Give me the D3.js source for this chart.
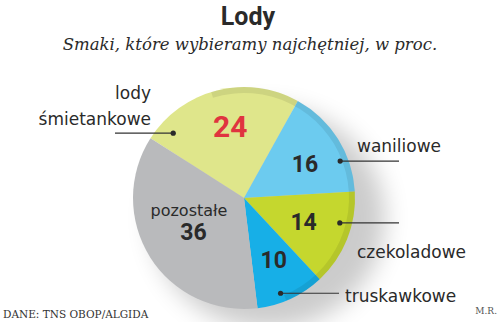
<!DOCTYPE html>
<html><head><meta charset="utf-8">
<script src="https://cdn.jsdelivr.net/npm/d3@7"></script>
<style>body{margin:0;background:#fff}svg{display:block}</style>
</head><body>
<script>
// Data
const categories = ["lody śmietankowe", "waniliowe", "czekoladowe", "truskawkowe", "pozostałe"];
const values = [24, 16, 14, 10, 36];
const colors = ["#dfe68b", "#6ccbef", "#c5d72e", "#17afe7", "#b9babc"];
const valueColors = ["#e0343f", "#2a2a2a", "#2a2a2a", "#2a2a2a", "#2a2a2a"];

const W = 500, H = 322;
const cx = 244, cy = 198, R = 111;
const svg = d3.select("body").append("svg").attr("width", W).attr("height", H);

const defs = svg.append("defs");
const f = defs.append("filter").attr("id","blur").attr("x","-50%").attr("y","-50%").attr("width","200%").attr("height","200%");
f.append("feGaussianBlur").attr("stdDeviation", 12);

// Title
svg.append("text").attr("x", 248).attr("y", 25).attr("text-anchor","middle")
  .style("font-family","Roboto, 'DejaVu Sans', sans-serif").style("font-weight","bold")
  .style("font-size","25px").attr("fill","#2a2a2a").text("Lody");
svg.append("text").attr("x", 250).attr("y", 50).attr("text-anchor","middle")
  .style("font-family","'DejaVu Serif', 'Liberation Serif', serif").style("font-style","italic")
  .style("font-size","16.5px").attr("fill","#2a2a2a").text("Smaki, które wybieramy najchętniej, w proc.");

const g = svg.append("g").attr("transform", `translate(${cx},${cy})`);

// shadow
g.append("ellipse").attr("cx", 24).attr("cy", 20).attr("rx", R+6).attr("ry", R)
  .attr("fill", "#000").attr("opacity", 0.2).attr("filter","url(#blur)");

const start = -57.4 * Math.PI / 180;
const pie = d3.pie().sort(null).value(d => d).startAngle(start).endAngle(start + 2*Math.PI);
const arcs = pie(values);
const arc = d3.arc().innerRadius(0).outerRadius(R);

g.selectAll("path.slice").data(arcs).join("path").attr("class","slice")
  .attr("d", arc).attr("fill", (d,i) => colors[i]);

// darker rim on the right side
const rim = d3.arc().innerRadius(R-6).outerRadius(R).startAngle(-0.3).endAngle(2.75);
g.append("path").attr("d", rim()).attr("fill","#000").attr("opacity",0.08);

// value labels
const labelArc = d3.arc().innerRadius(68).outerRadius(68);
const nudges = [[3,5],[3.5,10],[-3.5,7],[1,8],[7,6]];
const sizes = [30, 23, 23, 23, 23];
g.selectAll("text.val").data(arcs).join("text").attr("class","val")
  .attr("x", (d,i) => labelArc.centroid(d)[0] + nudges[i][0])
  .attr("y", (d,i) => labelArc.centroid(d)[1] + nudges[i][1])
  .attr("text-anchor","middle")
  .style("font-family","Roboto, 'DejaVu Sans', sans-serif").style("font-weight","bold")
  .style("font-size", (d,i) => sizes[i] + "px").attr("fill", (d,i) => valueColors[i])
  .text(d => d.data);

const labFont = "'DejaVu Sans', sans-serif";
// "pozostałe" inside gray slice
const gc = labelArc.centroid(arcs[4]);
g.append("text").attr("x", gc[0]+2.5).attr("y", gc[1]-18).attr("text-anchor","middle")
  .style("font-family", labFont).style("font-size","16px").attr("fill","#2a2a2a").text("pozostałe");

// callouts
const callouts = [
  {i:0, ang:-47.5, r:96, x2:115, lines:["lody","śmietankowe"], lx:151, ly:[99,125], anchor:"end"},
  {i:1, ang:69, r:103, x2:399, lines:["waniliowe"], lx:357, ly:[152], anchor:"start"},
  {i:2, ang:104.6, r:99, x2:399, lines:["czekoladowe"], lx:357, ly:[258], anchor:"start"},
  {i:3, ang:159, r:102, x2:339, lines:["truskawkowe"], lx:345, ly:[302], anchor:"start"}
];
callouts.forEach(c => {
  const a = c.ang * Math.PI/180;
  const dx = cx + c.r*Math.sin(a), dy = cy - c.r*Math.cos(a);
  svg.append("line").attr("x1", dx).attr("y1", dy).attr("x2", c.x2).attr("y2", dy)
    .attr("stroke","#333").attr("stroke-width",1.2);
  svg.append("circle").attr("cx", dx).attr("cy", dy).attr("r", 2.6).attr("fill","#2a2a2a");
  c.lines.forEach((t,k) => {
    svg.append("text").attr("x", c.lx).attr("y", c.ly[k]).attr("text-anchor", c.anchor)
      .style("font-family", labFont).style("font-size","17px").attr("fill","#2a2a2a").text(t);
  });
});

// footer
svg.append("text").attr("x", 3).attr("y", 318)
  .style("font-family","'DejaVu Serif', serif").style("font-size","10.5px").attr("fill","#333")
  .text("DANE: TNS OBOP/ALGIDA");
svg.append("text").attr("x", 497).attr("y", 314).attr("text-anchor","end")
  .style("font-family","'DejaVu Serif', serif").style("font-size","9px").attr("fill","#555")
  .text("M.R.");
</script>
</body></html>
